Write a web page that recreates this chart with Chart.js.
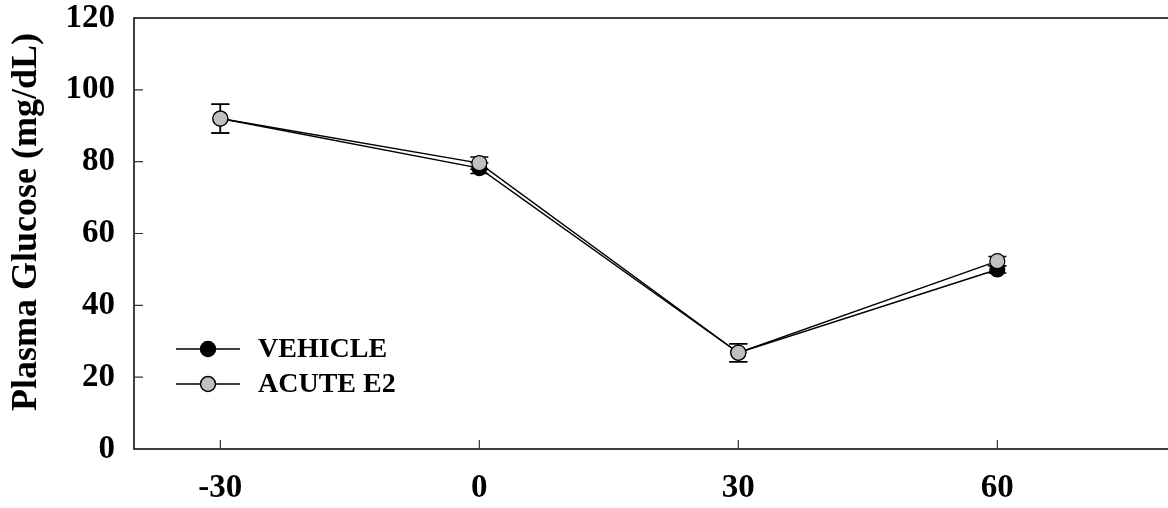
<!DOCTYPE html>
<html><head><meta charset="utf-8">
<script src="https://cdn.jsdelivr.net/npm/chart.js@4"></script>
<style>html,body{margin:0;padding:0;background:#fff;overflow:hidden}#wrap{width:1168px;height:508px;overflow:hidden}</style>
</head><body><div id="wrap"><canvas id="c" width="1170" height="508"></canvas></div>
<script>
const timePoints = [-30, 0, 30, 60];
const xTickValues = [-30, 0, 30, 60];
const yTickValues = [0, 20, 40, 60, 80, 100, 120];
const vehicleMean = [92, 78.2, 26.8, 50];
const vehicleSEM = [4, 1.5, 2.5, 1];
const e2Mean = [92, 79.6, 26.8, 52.3];
const e2SEM = [4, 1.7, 2.5, 1.3];
const seriesNames = ['VEHICLE', 'ACUTE E2'];
const yTitle = 'Plasma Glucose (mg/dL)';

const FONT = '"Liberation Serif", "Times New Roman", serif';

const boxPlugin = {
  id: 'box',
  beforeDatasetsDraw(chart) {
    const {ctx, chartArea: a, scales: {x, y}} = chart;
    ctx.save();
    ctx.strokeStyle = '#000';
    ctx.lineWidth = 1.5;
    ctx.beginPath();
    ctx.moveTo(a.right, a.top); ctx.lineTo(a.left, a.top); ctx.lineTo(a.left, a.bottom); ctx.lineTo(a.right, a.bottom);
    ctx.stroke();
    ctx.lineWidth = 1.2;
    ctx.strokeStyle = '#333';
    ctx.beginPath();
    xTickValues.forEach(v => { const px = x.getPixelForValue(v); ctx.moveTo(px, a.bottom); ctx.lineTo(px, a.bottom - 9); });
    yTickValues.forEach(v => { if (v === 0 || v === 120) return; const py = y.getPixelForValue(v); ctx.moveTo(a.left, py); ctx.lineTo(a.left + 9, py); });
    ctx.stroke();
    // error bars
    ctx.strokeStyle = '#000';
    ctx.lineWidth = 1.5;
    const sets = [[vehicleMean, vehicleSEM], [e2Mean, e2SEM]];
    sets.forEach(([m, s]) => {
      timePoints.forEach((t, i) => {
        const px = x.getPixelForValue(t);
        const yt = y.getPixelForValue(m[i] + s[i]);
        const yb = y.getPixelForValue(m[i] - s[i]);
        ctx.beginPath();
        ctx.moveTo(px, yt); ctx.lineTo(px, yb);
        ctx.moveTo(px - 9, yt); ctx.lineTo(px + 9, yt);
        ctx.moveTo(px - 9, yb); ctx.lineTo(px + 9, yb);
        ctx.stroke();
      });
    });
    ctx.restore();
  },
  afterDraw(chart) {
    const {ctx, chartArea: a} = chart;
    ctx.save();
    // y title
    ctx.translate(27, 222);
    ctx.rotate(-Math.PI / 2);
    ctx.font = 'bold 36px ' + FONT;
    ctx.fillStyle = '#000';
    ctx.textAlign = 'center';
    ctx.textBaseline = 'middle';
    ctx.fillText(yTitle, 0, 0);
    ctx.restore();
    // legend
    ctx.save();
    chart.data.datasets.forEach((ds, i) => {
      const ly = a.top + 331 + i * 35;
      const lx = a.left + 42;
      ctx.strokeStyle = '#000';
      ctx.lineWidth = 1.5;
      ctx.beginPath(); ctx.moveTo(lx, ly); ctx.lineTo(lx + 64, ly); ctx.stroke();
      ctx.beginPath(); ctx.arc(lx + 32, ly, 7.5, 0, Math.PI * 2);
      ctx.fillStyle = ds.pointBackgroundColor; ctx.fill(); ctx.stroke();
      ctx.fillStyle = '#000';
      ctx.font = 'bold 28px ' + FONT;
      ctx.textAlign = 'left';
      ctx.textBaseline = 'middle';
      ctx.fillText(ds.label, lx + 82, ly + 1);
    });
    ctx.restore();
  }
};

function zeroPad(s) { s.paddingTop = 0; s.paddingBottom = 0; s.paddingLeft = 0; s.paddingRight = 0; }

new Chart(document.getElementById('c'), {
  type: 'line',
  data: {
    datasets: [
      { label: seriesNames[0], data: timePoints.map((t, i) => ({x: t, y: vehicleMean[i]})),
        borderColor: '#000', borderWidth: 1.5, pointRadius: 7.5, pointBackgroundColor: '#000',
        pointBorderColor: '#000', pointBorderWidth: 1.2, order: 1, tension: 0 },
      { label: seriesNames[1], data: timePoints.map((t, i) => ({x: t, y: e2Mean[i]})),
        borderColor: '#000', borderWidth: 1.5, pointRadius: 7.5, pointBackgroundColor: '#c0c0c0',
        pointBorderColor: '#000', pointBorderWidth: 1.2, order: 0, tension: 0 }
    ]
  },
  options: {
    responsive: false, animation: false, devicePixelRatio: 1,
    layout: { autoPadding: false, padding: { top: 18, right: 0, left: 0, bottom: 0 } },
    plugins: { legend: { display: false }, tooltip: { enabled: false } },
    scales: {
      x: { type: 'linear', min: -40, max: 80,
        afterBuildTicks: s => { s.ticks = xTickValues.map(v => ({value: v})); },
        afterFit: s => { s.height = 59; zeroPad(s); },
        grid: { display: false, drawTicks: false }, border: { display: false },
        ticks: { color: '#000', font: { family: FONT, size: 33, weight: 'bold' }, padding: 20, maxRotation: 0 } },
      y: { type: 'linear', min: 0, max: 120,
        afterBuildTicks: s => { s.ticks = yTickValues.map(v => ({value: v})); },
        afterFit: s => { s.width = 134; zeroPad(s); },
        grid: { display: false, drawTicks: false }, border: { display: false },
        ticks: { color: '#000', font: { family: FONT, size: 33, weight: 'bold' }, padding: 19 } }
    }
  },
  plugins: [boxPlugin]
});
</script></body></html>
